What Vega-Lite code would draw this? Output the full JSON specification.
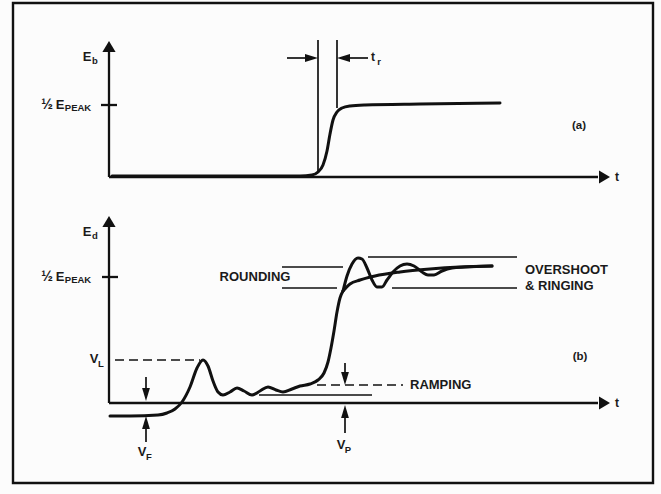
{
  "$schema": "https://vega.github.io/schema/vega-lite/v6.json",
  "width": 661,
  "height": 494,
  "autosize": {"type": "fit", "contains": "padding"},
  "padding": 0,
  "background": "#fcfcfc",
  "config": {"view": {"stroke": null}, "text": {"font": "Liberation Sans", "fontWeight": "bold", "color": "#1a1a1a", "baseline": "middle"}},
  "datasets": {
    "border": [{"x": 13, "x2": 653, "y": 3, "y2": 483}],
    "curves": [
      {"series": "a", "i": 1, "x": 112, "y": 176},
      {"series": "a", "i": 2, "x": 300, "y": 176},
      {"series": "a", "i": 3, "x": 312, "y": 175},
      {"series": "a", "i": 4, "x": 318, "y": 172},
      {"series": "a", "i": 5, "x": 323, "y": 165},
      {"series": "a", "i": 6, "x": 327, "y": 151},
      {"series": "a", "i": 7, "x": 330, "y": 134},
      {"series": "a", "i": 8, "x": 333, "y": 120},
      {"series": "a", "i": 9, "x": 337, "y": 112},
      {"series": "a", "i": 10, "x": 342, "y": 108},
      {"series": "a", "i": 11, "x": 350, "y": 106},
      {"series": "a", "i": 12, "x": 365, "y": 105},
      {"series": "a", "i": 13, "x": 420, "y": 104},
      {"series": "a", "i": 14, "x": 500, "y": 103},
      {"series": "b", "i": 1, "x": 110, "y": 416},
      {"series": "b", "i": 2, "x": 130, "y": 416},
      {"series": "b", "i": 3, "x": 158, "y": 415},
      {"series": "b", "i": 4, "x": 167, "y": 413},
      {"series": "b", "i": 5, "x": 175, "y": 409},
      {"series": "b", "i": 6, "x": 182, "y": 402},
      {"series": "b", "i": 7, "x": 190, "y": 387},
      {"series": "b", "i": 8, "x": 197, "y": 368},
      {"series": "b", "i": 9, "x": 203, "y": 360},
      {"series": "b", "i": 10, "x": 208, "y": 366},
      {"series": "b", "i": 11, "x": 213, "y": 381},
      {"series": "b", "i": 12, "x": 218, "y": 392},
      {"series": "b", "i": 13, "x": 223, "y": 395},
      {"series": "b", "i": 14, "x": 230, "y": 392},
      {"series": "b", "i": 15, "x": 237, "y": 388},
      {"series": "b", "i": 16, "x": 244, "y": 391},
      {"series": "b", "i": 17, "x": 252, "y": 395},
      {"series": "b", "i": 18, "x": 260, "y": 391},
      {"series": "b", "i": 19, "x": 268, "y": 387},
      {"series": "b", "i": 20, "x": 276, "y": 390},
      {"series": "b", "i": 21, "x": 283, "y": 392},
      {"series": "b", "i": 22, "x": 292, "y": 389},
      {"series": "b", "i": 23, "x": 300, "y": 386},
      {"series": "b", "i": 24, "x": 310, "y": 384},
      {"series": "b", "i": 25, "x": 318, "y": 380},
      {"series": "b", "i": 26, "x": 324, "y": 373},
      {"series": "b", "i": 27, "x": 328, "y": 362},
      {"series": "b", "i": 28, "x": 331, "y": 348},
      {"series": "b", "i": 29, "x": 334, "y": 331},
      {"series": "b", "i": 30, "x": 337, "y": 312},
      {"series": "b", "i": 31, "x": 340, "y": 298},
      {"series": "b", "i": 32, "x": 343, "y": 291},
      {"series": "overshoot", "i": 1, "x": 343, "y": 291},
      {"series": "overshoot", "i": 2, "x": 347, "y": 276},
      {"series": "overshoot", "i": 3, "x": 352, "y": 264},
      {"series": "overshoot", "i": 4, "x": 358, "y": 258},
      {"series": "overshoot", "i": 5, "x": 362, "y": 259},
      {"series": "overshoot", "i": 6, "x": 367, "y": 268},
      {"series": "overshoot", "i": 7, "x": 372, "y": 280},
      {"series": "overshoot", "i": 8, "x": 377, "y": 287},
      {"series": "overshoot", "i": 9, "x": 382, "y": 287},
      {"series": "overshoot", "i": 10, "x": 387, "y": 280},
      {"series": "overshoot", "i": 11, "x": 393, "y": 272},
      {"series": "overshoot", "i": 12, "x": 400, "y": 266},
      {"series": "overshoot", "i": 13, "x": 407, "y": 264},
      {"series": "overshoot", "i": 14, "x": 414, "y": 266},
      {"series": "overshoot", "i": 15, "x": 422, "y": 272},
      {"series": "overshoot", "i": 16, "x": 428, "y": 275},
      {"series": "overshoot", "i": 17, "x": 434, "y": 275},
      {"series": "overshoot", "i": 18, "x": 442, "y": 271},
      {"series": "overshoot", "i": 19, "x": 452, "y": 268},
      {"series": "overshoot", "i": 20, "x": 465, "y": 267},
      {"series": "overshoot", "i": 21, "x": 492, "y": 266},
      {"series": "rounding", "i": 1, "x": 343, "y": 291},
      {"series": "rounding", "i": 2, "x": 350, "y": 284},
      {"series": "rounding", "i": 3, "x": 360, "y": 280},
      {"series": "rounding", "i": 4, "x": 375, "y": 276},
      {"series": "rounding", "i": 5, "x": 400, "y": 272},
      {"series": "rounding", "i": 6, "x": 430, "y": 269},
      {"series": "rounding", "i": 7, "x": 460, "y": 267},
      {"series": "rounding", "i": 8, "x": 492, "y": 266}
    ],
    "axes": [
      {"x": 109, "x2": 109, "y": 52, "y2": 177},
      {"x": 109, "x2": 598, "y": 177, "y2": 177},
      {"x": 109, "x2": 109, "y": 226, "y2": 403},
      {"x": 109, "x2": 598, "y": 403, "y2": 403},
      {"x": 101, "x2": 117, "y": 105, "y2": 105},
      {"x": 102, "x2": 118, "y": 277, "y2": 277}
    ],
    "thin": [
      {"x": 282, "x2": 343, "y": 267, "y2": 267},
      {"x": 282, "x2": 337, "y": 288, "y2": 288},
      {"x": 368, "x2": 517, "y": 257, "y2": 257},
      {"x": 392, "x2": 517, "y": 288, "y2": 288},
      {"x": 259, "x2": 372, "y": 395, "y2": 395},
      {"x": 318, "x2": 318, "y": 40, "y2": 172},
      {"x": 337, "x2": 337, "y": 40, "y2": 108},
      {"x": 287, "x2": 312, "y": 58, "y2": 58},
      {"x": 343, "x2": 368, "y": 58, "y2": 58},
      {"x": 146, "x2": 146, "y": 377, "y2": 395},
      {"x": 146, "x2": 146, "y": 422, "y2": 442},
      {"x": 345, "x2": 345, "y": 363, "y2": 380},
      {"x": 345, "x2": 345, "y": 410, "y2": 433}
    ],
    "dashed": [
      {"x": 115, "x2": 200, "y": 360, "y2": 360},
      {"x": 317, "x2": 403, "y": 385, "y2": 385}
    ],
    "heads": [
      {"dir": "R", "x": 610, "y": 177},
      {"dir": "R", "x": 610, "y": 403},
      {"dir": "U", "x": 109, "y": 41},
      {"dir": "U", "x": 109, "y": 216}
    ],
    "marks": [
      {"dir": "right", "x": 318, "y": 58},
      {"dir": "left", "x": 337, "y": 58},
      {"dir": "down", "x": 146, "y": 401},
      {"dir": "up", "x": 146, "y": 416},
      {"dir": "down", "x": 345, "y": 385},
      {"dir": "up", "x": 345, "y": 405}
    ],
    "labels": [
      {"text": "E", "role": "main", "x": 87, "y": 57},
      {"text": "b", "role": "sub", "x": 95, "y": 61},
      {"text": "½", "role": "frac", "x": 47, "y": 105},
      {"text": "E", "role": "main", "x": 60, "y": 105},
      {"text": "PEAK", "role": "sub", "x": 78, "y": 108},
      {"text": "t", "role": "small", "x": 617, "y": 177},
      {"text": "t", "role": "small", "x": 373, "y": 57},
      {"text": "r", "role": "sub", "x": 379, "y": 62},
      {"text": "(a)", "role": "tag", "x": 579, "y": 126},
      {"text": "E", "role": "main", "x": 87, "y": 232},
      {"text": "d", "role": "sub", "x": 95, "y": 236},
      {"text": "½", "role": "frac", "x": 47, "y": 277},
      {"text": "E", "role": "main", "x": 60, "y": 277},
      {"text": "PEAK", "role": "sub", "x": 78, "y": 280},
      {"text": "t", "role": "small", "x": 617, "y": 403},
      {"text": "(b)", "role": "tag", "x": 580, "y": 357},
      {"text": "ROUNDING", "role": "main", "x": 255, "y": 277},
      {"text": "V", "role": "main", "x": 94, "y": 359},
      {"text": "L", "role": "sub", "x": 101, "y": 364},
      {"text": "V", "role": "main", "x": 142, "y": 452},
      {"text": "F", "role": "sub", "x": 149, "y": 457},
      {"text": "V", "role": "main", "x": 341, "y": 445},
      {"text": "P", "role": "sub", "x": 348, "y": 450}
    ],
    "leftLabels": [
      {"text": "OVERSHOOT", "x": 525, "y": 270},
      {"text": "& RINGING", "x": 525, "y": 286},
      {"text": "RAMPING", "x": 410, "y": 385}
    ]
  },
  "layer": [
    {
      "data": {"name": "border"},
      "mark": {"type": "rect", "fill": null, "stroke": "#111", "strokeWidth": 2.4},
      "encoding": {
        "x": {"field": "x", "type": "quantitative", "scale": {"domain": [0, 661], "nice": false, "zero": false}, "axis": null},
        "x2": {"field": "x2"},
        "y": {"field": "y", "type": "quantitative", "scale": {"domain": [0, 494], "nice": false, "zero": false, "reverse": true}, "axis": null},
        "y2": {"field": "y2"}
      }
    },
    {
      "data": {"name": "axes"},
      "mark": {"type": "rule", "color": "#111", "strokeWidth": 2.3},
      "encoding": {
        "x": {"field": "x", "type": "quantitative"},
        "x2": {"field": "x2"},
        "y": {"field": "y", "type": "quantitative"},
        "y2": {"field": "y2"}
      }
    },
    {
      "data": {"name": "thin"},
      "mark": {"type": "rule", "color": "#111", "strokeWidth": 1.7},
      "encoding": {
        "x": {"field": "x", "type": "quantitative"},
        "x2": {"field": "x2"},
        "y": {"field": "y", "type": "quantitative"},
        "y2": {"field": "y2"}
      }
    },
    {
      "data": {"name": "dashed"},
      "mark": {"type": "rule", "color": "#111", "strokeWidth": 1.7, "strokeDash": [9, 5]},
      "encoding": {
        "x": {"field": "x", "type": "quantitative"},
        "x2": {"field": "x2"},
        "y": {"field": "y", "type": "quantitative"},
        "y2": {"field": "y2"}
      }
    },
    {
      "data": {"name": "curves"},
      "mark": {"type": "line", "interpolate": "monotone", "color": "#111", "strokeWidth": 3, "strokeCap": "round", "strokeJoin": "round"},
      "encoding": {
        "x": {"field": "x", "type": "quantitative"},
        "y": {"field": "y", "type": "quantitative"},
        "detail": {"field": "series", "type": "nominal"},
        "order": {"field": "i", "type": "quantitative"}
      }
    },
    {
      "data": {"name": "heads"},
      "mark": {"type": "point", "filled": true, "opacity": 1, "color": "#111", "size": 484},
      "encoding": {
        "x": {"field": "x", "type": "quantitative"},
        "y": {"field": "y", "type": "quantitative"},
        "shape": {
          "field": "dir", "type": "nominal", "legend": null,
          "scale": {
            "domain": ["R", "U", "right", "left", "up", "down"],
            "range": ["M0,0L-1,-0.6L-1,0.6Z", "M0,0L-0.6,1L0.6,1Z", "M0,0L-1,-0.3L-1,0.3Z", "M0,0L1,-0.3L1,0.3Z", "M0,0L-0.3,1L0.3,1Z", "M0,0L-0.3,-1L0.3,-1Z"]
          }
        }
      }
    },
    {
      "data": {"name": "marks"},
      "mark": {"type": "point", "filled": true, "opacity": 1, "color": "#111", "size": 676},
      "encoding": {
        "x": {"field": "x", "type": "quantitative"},
        "y": {"field": "y", "type": "quantitative"},
        "shape": {"field": "dir", "type": "nominal", "legend": null}
      }
    },
    {
      "data": {"name": "labels"},
      "transform": [{"filter": "datum.role === 'main'"}],
      "mark": {"type": "text", "align": "center", "fontSize": 13},
      "encoding": {
        "x": {"field": "x", "type": "quantitative"},
        "y": {"field": "y", "type": "quantitative"},
        "text": {"field": "text", "type": "nominal"}
      }
    },
    {
      "data": {"name": "labels"},
      "transform": [{"filter": "datum.role === 'sub'"}],
      "mark": {"type": "text", "align": "center", "fontSize": 9.5},
      "encoding": {
        "x": {"field": "x", "type": "quantitative"},
        "y": {"field": "y", "type": "quantitative"},
        "text": {"field": "text", "type": "nominal"}
      }
    },
    {
      "data": {"name": "labels"},
      "transform": [{"filter": "datum.role === 'frac'"}],
      "mark": {"type": "text", "align": "center", "fontSize": 14},
      "encoding": {
        "x": {"field": "x", "type": "quantitative"},
        "y": {"field": "y", "type": "quantitative"},
        "text": {"field": "text", "type": "nominal"}
      }
    },
    {
      "data": {"name": "labels"},
      "transform": [{"filter": "datum.role === 'small'"}],
      "mark": {"type": "text", "align": "center", "fontSize": 12},
      "encoding": {
        "x": {"field": "x", "type": "quantitative"},
        "y": {"field": "y", "type": "quantitative"},
        "text": {"field": "text", "type": "nominal"}
      }
    },
    {
      "data": {"name": "labels"},
      "transform": [{"filter": "datum.role === 'tag'"}],
      "mark": {"type": "text", "align": "center", "fontSize": 11.5},
      "encoding": {
        "x": {"field": "x", "type": "quantitative"},
        "y": {"field": "y", "type": "quantitative"},
        "text": {"field": "text", "type": "nominal"}
      }
    },
    {
      "data": {"name": "leftLabels"},
      "mark": {"type": "text", "align": "left", "fontSize": 13},
      "encoding": {
        "x": {"field": "x", "type": "quantitative"},
        "y": {"field": "y", "type": "quantitative"},
        "text": {"field": "text", "type": "nominal"}
      }
    }
  ]
}
